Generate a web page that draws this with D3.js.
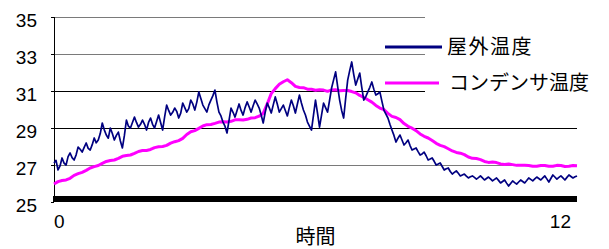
<!DOCTYPE html>
<html>
<head>
<meta charset="utf-8">
<script src="https://cdn.jsdelivr.net/npm/d3@7"></script>
<style>
  html, body { margin: 0; padding: 0; background: #fff; }
  svg { display: block; }
</style>
</head>
<body>
<svg id="chart" width="609" height="249"></svg>
<script>
// ---- data ----
const seriesNames = ["屋外温度", "コンデンサ温度"];
const xTickValues = [0, 12];
const yTickValues = [25, 27, 29, 31, 33, 35];
const xTitle = "時間";

// outdoor temperature (samples evenly spaced over 0..12 h)
const outdoorTemp = [
  27.11, 27.25, 26.73, 26.95, 27.38, 27.10, 27.00, 27.45, 27.65, 27.40,
  27.27, 27.55, 27.97, 27.85, 27.70, 27.95, 28.19, 27.90, 27.81, 28.10,
  28.46, 28.20, 28.35, 28.70, 29.27, 28.90, 28.62, 28.45, 29.00, 28.70,
  28.35, 28.60, 28.78, 28.30, 27.92, 28.60, 29.43, 29.10, 29.00, 29.30,
  29.59, 29.30, 29.05, 29.20, 29.43, 29.20, 28.89, 29.30, 29.54, 29.20,
  29.00, 29.35, 29.70, 29.30, 28.89, 29.60, 30.24, 29.95, 29.70, 29.85,
  30.08, 29.90, 29.54, 29.80, 30.35, 30.10, 29.86, 30.05, 30.51, 30.30,
  29.97, 30.40, 30.95, 30.60, 30.24, 30.05, 29.86, 30.25, 30.51, 30.75,
  31.05, 30.40, 29.86, 29.65, 29.32, 29.10, 28.73, 29.40, 30.08, 29.85,
  29.59, 29.95, 30.30, 29.95, 29.70, 30.10, 30.41, 30.15, 29.86, 30.20,
  30.51, 30.30, 30.08, 29.70, 29.27, 29.85, 30.35, 30.10, 29.81, 30.25,
  30.68, 30.30, 29.86, 30.05, 30.24, 29.95, 29.65, 30.10, 30.51, 30.20,
  29.81, 30.30, 30.78, 30.35, 29.97, 29.70, 29.32, 29.10, 28.89, 29.70,
  30.51, 29.80, 29.05, 29.70, 30.35, 30.10, 29.86, 30.50, 31.16, 31.60,
  32.03, 31.25, 30.51, 29.95, 29.54, 30.60, 31.59, 32.10, 32.57, 31.90,
  31.32, 31.65, 31.97, 31.20, 30.51, 30.70, 30.95, 31.20, 31.49, 31.10,
  30.78, 30.85, 30.95, 30.45, 29.97, 29.75, 29.54, 29.20, 28.89, 28.60,
  28.24, 28.45, 28.62, 28.35, 28.08, 28.20, 28.35, 28.05, 27.81, 27.87,
  27.92, 27.72, 27.54, 27.60, 27.70, 27.50, 27.27, 27.32, 27.38, 27.20,
  27.00, 27.05, 27.11, 26.92, 26.73, 26.80, 26.84, 26.65, 26.51, 26.60,
  26.68, 26.55, 26.41, 26.46, 26.51, 26.40, 26.30, 26.36, 26.41, 26.33,
  26.24, 26.32, 26.41, 26.30, 26.19, 26.27, 26.35, 26.25, 26.14, 26.22,
  26.30, 26.17, 26.03, 26.11, 26.19, 26.02, 25.86, 26.00, 26.14, 26.05,
  25.97, 26.08, 26.19, 26.11, 26.03, 26.16, 26.30, 26.22, 26.14, 26.25,
  26.35, 26.27, 26.19, 26.30, 26.41, 26.25, 26.08, 26.27, 26.46, 26.35,
  26.24, 26.33, 26.41, 26.30, 26.19, 26.33, 26.46, 26.38, 26.30, 26.36,
  26.41
];

// condenser temperature (samples evenly spaced over 0..12 h)
const condenserTemp = [
  25.97, 26.10, 26.16, 26.19, 26.28, 26.44, 26.53, 26.60, 26.71, 26.84,
  26.91, 26.97, 27.09, 27.19, 27.24, 27.27, 27.36, 27.47, 27.51, 27.54,
  27.63, 27.73, 27.78, 27.78, 27.84, 27.94, 27.99, 28.00, 28.06, 28.18,
  28.26, 28.32, 28.44, 28.65, 28.80, 28.86, 28.98, 29.11, 29.18, 29.19,
  29.25, 29.32, 29.34, 29.32, 29.36, 29.44, 29.45, 29.43, 29.47, 29.54,
  29.56, 29.64, 29.79, 30.30, 30.86, 31.13, 31.36, 31.50, 31.61, 31.45,
  31.25, 31.19, 31.18, 31.10, 31.09, 31.04, 31.07, 31.05, 30.98, 31.06,
  31.07, 31.02, 31.03, 31.03, 30.97, 30.90, 30.76, 30.66, 30.53, 30.40,
  30.22, 30.08, 29.99, 29.79, 29.63, 29.57, 29.45, 29.24, 29.09, 28.99,
  28.86, 28.68, 28.55, 28.46, 28.32, 28.17, 28.06, 27.99, 27.88, 27.76,
  27.68, 27.64, 27.56, 27.43, 27.36, 27.35, 27.29, 27.19, 27.14, 27.16,
  27.13, 27.06, 27.03, 27.05, 27.02, 26.98, 26.98, 26.99, 26.97, 26.93,
  26.93, 26.97, 26.97, 26.93, 26.93, 26.98, 26.97, 26.92, 26.93, 26.97,
  26.96
];

// ---- layout ----
const svg = d3.select("#chart");
const margin = { left: 54, right: 32, top: 17, bottom: 47 };
const W = 609, H = 249;
const x = d3.scaleLinear().domain([0, 12]).range([margin.left, W - margin.right]);
const y = d3.scaleLinear().domain([25, 35]).range([H - margin.bottom, margin.top]);

const tOf = arr => (i => i * 12 / (arr.length - 1));

// gridlines (upper ones stop behind the legend box)
const legendLeft = 425;
const gridColor = v => (v === 31 || v === 29) ? "#000" : "#7a7a7a";
svg.append("g").selectAll("line")
  .data(yTickValues.filter(v => v > 25))
  .join("line")
  .attr("x1", x(0))
  .attr("x2", v => y(v) < 100 ? legendLeft : x(12))
  .attr("y1", v => y(v)).attr("y2", v => y(v))
  .attr("stroke", gridColor)
  .attr("stroke-width", 1)
  .attr("shape-rendering", "crispEdges");

// y axis line and tiny ticks
svg.append("line")
  .attr("x1", x(0)).attr("x2", x(0))
  .attr("y1", y(35)).attr("y2", y(25))
  .attr("stroke", "#000").attr("stroke-width", 1)
  .attr("shape-rendering", "crispEdges");
svg.append("g").selectAll("line")
  .data(yTickValues)
  .join("line")
  .attr("x1", x(0) - 3).attr("x2", x(0))
  .attr("y1", v => y(v)).attr("y2", v => y(v))
  .attr("stroke", "#000").attr("shape-rendering", "crispEdges");

// y tick labels
svg.append("g").selectAll("text")
  .data(yTickValues)
  .join("text")
  .attr("x", 37)
  .attr("y", v => y(v) + 3)
  .attr("dy", "0.36em")
  .attr("text-anchor", "end")
  .attr("font-family", "Liberation Sans, Arial, sans-serif")
  .attr("font-size", 19)
  .attr("fill", "#000")
  .text(d => d);

// series lines
const lineGen = arr => d3.line()
  .x((d, i) => x(tOf(arr)(i)))
  .y(d => y(d));

svg.append("path")
  .datum(condenserTemp)
  .attr("d", lineGen(condenserTemp))
  .attr("fill", "none")
  .attr("stroke", "#ff00ff")
  .attr("stroke-width", 3)
  .attr("stroke-linejoin", "round");

svg.append("path")
  .datum(outdoorTemp)
  .attr("d", lineGen(outdoorTemp))
  .attr("fill", "none")
  .attr("stroke", "#000080")
  .attr("stroke-width", 1.7)
  .attr("stroke-linejoin", "round");

// thick bottom axis bar
svg.append("rect")
  .attr("x", x(0) - 1)
  .attr("y", y(25) - 6)
  .attr("width", x(12) - x(0) + 1)
  .attr("height", 6)
  .attr("fill", "#000");

// x tick labels
svg.append("g").selectAll("text")
  .data(xTickValues)
  .join("text")
  .attr("x", (v, i) => i === 0 ? x(v) : x(v) - 6)
  .attr("y", 228)
  .attr("text-anchor", (v, i) => i === 0 ? "start" : "end")
  .attr("font-family", "Liberation Sans, Arial, sans-serif")
  .attr("font-size", 19)
  .attr("fill", "#000")
  .text(d => d);

// x axis title
svg.append("text")
  .attr("x", (x(0) + x(12)) / 2)
  .attr("y", 244)
  .attr("text-anchor", "middle")
  .attr("font-family", "Noto Sans CJK JP, sans-serif")
  .attr("font-size", 20)
  .attr("fill", "#000")
  .text(xTitle);

// legend
const legendColors = ["#000080", "#ff00ff"];
const legendRows = [47, 83];
const lg = svg.append("g");
seriesNames.forEach((name, i) => {
  lg.append("line")
    .attr("x1", 385).attr("x2", i === 0 ? 442 : 439)
    .attr("y1", legendRows[i]).attr("y2", legendRows[i])
    .attr("stroke", legendColors[i])
    .attr("stroke-width", 3);
  lg.append("text")
    .attr("x", i === 0 ? 447 : 449)
    .attr("y", legendRows[i] + 7)
    .attr("font-family", "Noto Sans CJK JP, sans-serif")
    .attr("font-size", 20)
    .attr("letter-spacing", i === 0 ? 1.5 : 0)
    .attr("fill", "#000")
    .text(name);
});
</script>
</body>
</html>
